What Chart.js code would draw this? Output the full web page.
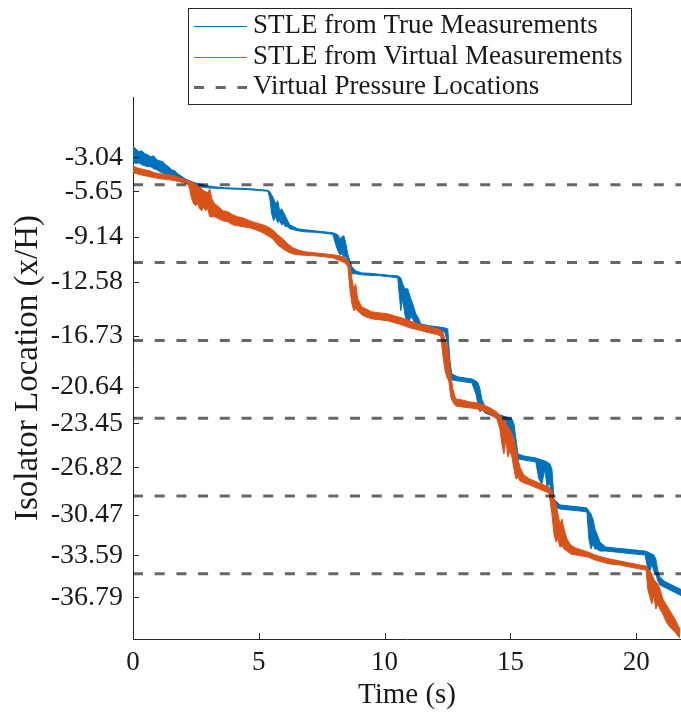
<!DOCTYPE html>
<html>
<head>
<meta charset="utf-8">
<script src="https://cdn.jsdelivr.net/npm/chart.js@4.4.0/dist/chart.umd.min.js"></script>
<style>
  html, body { margin: 0; padding: 0; background: #fff; }
</style>
</head>
<body>
<canvas id="stle" width="681" height="717"></canvas>
<script>
// Shock-train leading edge estimate vs time. Each series is stored as the
// upper and lower edge of its noisy trace at a set of times (s, x/H).
const trueTime = [0.00,0.11,0.23,0.35,0.47,0.58,0.70,0.82,0.94,1.06,
  1.18,1.30,1.42,1.54,1.66,1.78,1.90,2.02,2.14,2.25,
  2.45,2.65,2.93,3.25,3.65,4.16,4.64,5.12,5.36,5.44,
  5.51,5.59,5.67,5.75,5.83,5.91,5.99,6.07,6.15,6.23,
  6.39,6.55,6.83,7.22,7.62,7.94,8.06,8.14,8.22,8.30,
  8.38,8.46,8.54,8.62,8.70,8.85,9.09,9.41,9.81,10.21,
  10.52,10.60,10.64,10.72,10.80,10.92,11.04,11.12,11.24,11.32,
  11.44,11.60,11.80,12.12,12.39,12.51,12.59,12.67,12.91,13.19,
  13.47,13.63,13.71,13.79,13.86,13.98,14.18,14.38,14.58,14.82,
  14.98,15.06,15.14,15.22,15.30,15.53,15.77,16.01,16.13,16.25,
  16.37,16.45,16.57,16.65,16.73,16.97,17.36,17.76,18.04,18.12,
  18.20,18.28,18.36,18.44,18.56,18.79,19.15,19.55,19.95,20.35,
  20.46,20.54,20.62,20.70,20.78,20.86,20.94,21.10,21.26,21.42,
  21.58,21.74,21.78];
const trueHigh = [-2.22,-2.37,-2.60,-2.52,-2.75,-2.83,-2.99,-2.91,-3.22,-3.29,
  -3.37,-3.60,-3.75,-3.98,-4.06,-4.29,-4.44,-4.60,-4.75,-4.83,
  -4.98,-5.06,-5.21,-5.29,-5.37,-5.40,-5.44,-5.52,-5.56,-5.67,
  -5.90,-6.21,-6.60,-6.36,-7.13,-6.98,-7.29,-7.59,-7.90,-8.21,
  -8.36,-8.52,-8.59,-8.67,-8.75,-8.82,-8.90,-8.98,-9.28,-9.13,
  -9.05,-9.67,-10.51,-10.97,-11.43,-11.74,-11.90,-11.93,-12.01,-12.09,
  -12.12,-12.20,-12.28,-12.74,-13.12,-13.12,-13.89,-14.28,-15.04,-15.27,
  -15.81,-15.89,-15.96,-16.04,-16.12,-16.20,-18.50,-19.65,-19.88,-19.96,
  -20.04,-20.19,-20.34,-20.80,-21.57,-22.11,-22.26,-22.57,-22.80,-22.95,
  -23.03,-23.11,-23.49,-24.64,-25.80,-25.95,-26.03,-26.10,-26.18,-26.26,
  -26.33,-26.41,-26.56,-26.95,-29.25,-29.71,-29.79,-29.87,-29.94,-30.17,
  -30.40,-30.79,-31.56,-31.94,-32.56,-32.94,-33.02,-33.09,-33.17,-33.25,
  -33.32,-33.40,-33.48,-33.55,-33.86,-34.78,-35.24,-35.55,-35.70,-35.86,
  -36.01,-36.16,-36.20];
const trueLow = [-3.37,-3.52,-3.45,-3.60,-3.68,-3.75,-3.75,-3.91,-3.98,-4.14,
  -4.21,-4.37,-4.52,-4.52,-4.67,-4.83,-4.91,-4.98,-5.06,-5.14,
  -5.21,-5.29,-5.37,-5.40,-5.44,-5.48,-5.52,-5.60,-5.63,-6.21,
  -7.36,-7.90,-7.59,-8.05,-7.90,-8.21,-8.13,-8.36,-8.36,-8.52,
  -8.59,-8.67,-8.75,-8.78,-8.86,-8.94,-9.74,-10.20,-10.51,-10.44,
  -10.67,-10.67,-10.97,-11.74,-11.97,-11.97,-12.05,-12.09,-12.12,-12.20,
  -12.28,-13.89,-14.81,-13.89,-15.04,-15.96,-15.27,-15.43,-15.96,-16.20,
  -16.20,-16.27,-16.31,-16.35,-16.43,-17.35,-19.88,-20.11,-20.19,-20.27,
  -20.34,-21.19,-21.96,-22.57,-22.34,-22.65,-22.80,-22.95,-23.11,-23.26,
  -24.64,-25.80,-25.03,-26.03,-26.18,-26.26,-26.33,-26.41,-27.72,-28.10,
  -26.95,-28.25,-28.10,-29.48,-29.87,-30.02,-30.10,-30.17,-30.25,-32.33,
  -33.09,-32.71,-33.09,-33.09,-33.25,-33.25,-33.32,-33.40,-33.48,-33.55,
  -34.63,-34.86,-34.24,-34.78,-35.01,-35.55,-35.86,-36.01,-36.16,-36.32,
  -36.47,-36.63,-36.66];

const virtTime = [0.00,0.15,0.31,0.47,0.66,0.86,1.06,1.26,1.46,1.66,
  1.86,2.06,2.17,2.25,2.33,2.41,2.49,2.57,2.65,2.73,
  2.81,2.89,2.97,3.05,3.13,3.25,3.41,3.57,3.77,3.96,
  4.16,4.36,4.64,4.88,5.16,5.36,5.55,5.75,5.95,6.15,
  6.35,6.55,6.83,7.22,7.62,7.94,8.22,8.42,8.54,8.62,
  8.70,8.78,8.85,8.93,9.09,9.25,9.49,9.81,10.13,10.40,
  10.68,11.00,11.32,11.64,11.96,12.23,12.31,12.39,12.47,12.55,
  12.63,12.71,12.83,13.07,13.39,13.67,13.91,14.18,14.46,14.58,
  14.66,14.74,14.82,14.90,14.98,15.06,15.14,15.22,15.30,15.38,
  15.53,15.77,16.05,16.33,16.53,16.65,16.73,16.81,16.89,16.97,
  17.05,17.13,17.25,17.40,17.60,17.84,18.08,18.36,18.64,18.95,
  19.35,19.75,20.15,20.39,20.46,20.54,20.62,20.70,20.78,20.86,
  20.94,21.06,21.18,21.30,21.42,21.54,21.66,21.74];
const virtHigh = [-3.68,-3.83,-3.91,-3.98,-4.06,-4.21,-4.29,-4.33,-4.37,-4.44,
  -4.60,-4.75,-4.83,-4.83,-4.91,-4.98,-5.14,-5.21,-5.29,-5.44,
  -5.60,-5.67,-5.75,-5.44,-6.21,-6.60,-6.83,-7.13,-7.21,-7.44,
  -7.59,-7.67,-7.90,-8.05,-8.21,-8.36,-8.59,-8.98,-9.28,-9.67,
  -9.97,-10.13,-10.28,-10.36,-10.44,-10.51,-10.59,-10.74,-10.97,-11.20,
  -12.36,-13.12,-12.74,-13.89,-14.51,-14.66,-14.89,-14.97,-15.04,-15.20,
  -15.35,-15.58,-15.81,-15.96,-16.12,-16.27,-16.43,-16.96,-17.35,-18.12,
  -19.65,-20.80,-21.57,-21.65,-21.80,-21.88,-22.03,-22.26,-22.57,-22.88,
  -22.95,-23.11,-23.49,-23.72,-23.88,-24.26,-24.64,-25.41,-26.18,-26.79,
  -27.41,-27.72,-27.95,-28.18,-28.33,-28.64,-29.25,-29.64,-30.40,-31.17,
  -30.79,-31.56,-32.33,-32.79,-33.02,-33.17,-33.32,-33.55,-33.71,-33.86,
  -34.01,-34.17,-34.32,-34.40,-34.63,-34.78,-35.01,-35.40,-35.63,-35.78,
  -36.16,-36.93,-37.32,-37.70,-38.08,-38.47,-38.93,-39.24];
const virtLow = [-4.21,-4.29,-4.37,-4.44,-4.52,-4.60,-4.67,-4.71,-4.75,-4.83,
  -4.91,-4.98,-5.06,-5.44,-6.21,-6.60,-6.75,-6.60,-6.98,-7.13,
  -6.83,-7.13,-6.98,-7.59,-7.59,-7.59,-7.75,-7.90,-7.98,-8.21,
  -8.28,-8.36,-8.44,-8.59,-8.82,-9.05,-9.28,-9.74,-10.05,-10.28,
  -10.44,-10.51,-10.55,-10.59,-10.67,-10.74,-10.97,-11.13,-11.43,-13.12,
  -14.28,-14.81,-14.66,-14.81,-15.12,-15.27,-15.43,-15.50,-15.58,-15.73,
  -15.89,-16.12,-16.27,-16.43,-16.58,-16.73,-18.12,-19.27,-19.88,-20.19,
  -21.42,-21.80,-22.11,-22.19,-22.26,-22.34,-22.49,-22.72,-23.11,-23.88,
  -25.03,-25.80,-24.64,-26.03,-25.57,-26.03,-26.95,-27.72,-27.56,-27.87,
  -28.02,-28.18,-28.41,-28.64,-28.79,-30.40,-31.94,-32.56,-32.33,-32.94,
  -32.86,-33.09,-33.25,-33.48,-33.55,-33.63,-33.71,-33.94,-34.09,-34.24,
  -34.32,-34.48,-34.63,-34.71,-36.16,-36.78,-37.32,-36.70,-37.70,-37.32,
  -37.70,-38.08,-38.62,-39.01,-39.24,-39.47,-39.77,-39.93];

// virtual pressure tap locations (x/H)
const pressureLocations = [-5.13, -11.10, -17.08, -23.05, -29.02, -34.99];

// tick marks
const yTickValues = [-3.04, -5.65, -9.14, -12.58, -16.73, -20.64, -23.45, -26.82, -30.47, -33.59, -36.79];
const xTickValues = [0, 5, 10, 15, 20];

const seriesLabels = ['STLE from True Measurements', 'STLE from Virtual Measurements', 'Virtual Pressure Locations'];

const X_MIN = 0, X_MAX = 21.78;
const Y_MIN = -40, Y_MAX = 1.6;
const FONT = '"Liberation Serif", "Times New Roman", serif';
const BLUE = '#0072BD', ORANGE = '#D95319';

function edge(time, values) {
    return time.map((t, i) => ({x: t, y: values[i]}));
}

function hLines(levels) {
    const pts = [];
    levels.forEach(v => {
        pts.push({x: X_MIN, y: v});
        pts.push({x: X_MAX, y: v});
        pts.push({x: X_MAX, y: null});
    });
    return pts;
}

// tick marks drawn inward, MATLAB style
const inwardTicks = {
    id: 'inwardTicks',
    afterDatasetsDraw(chart) {
        const {ctx, chartArea, scales} = chart;
        ctx.save();
        ctx.strokeStyle = '#262626';
        ctx.lineWidth = 1;
        ctx.beginPath();
        scales.y.ticks.forEach(t => {
            const py = Math.round(scales.y.getPixelForValue(t.value)) + 0.5;
            ctx.moveTo(chartArea.left, py);
            ctx.lineTo(chartArea.left + 6, py);
        });
        scales.x.ticks.forEach(t => {
            const px = Math.round(scales.x.getPixelForValue(t.value)) + 0.5;
            ctx.moveTo(px, chartArea.bottom);
            ctx.lineTo(px, chartArea.bottom - 6);
        });
        ctx.stroke();
        ctx.restore();
    }
};

// boxed legend, one entry per row (helper datasets without a label are skipped)
const boxedLegend = {
    id: 'boxedLegend',
    afterDraw(chart) {
        const ctx = chart.ctx;
        const left = 188.5, top = 8.5, width = 443, height = 96;
        const rows = [26, 57, 87];
        ctx.save();
        ctx.fillStyle = '#ffffff';
        ctx.fillRect(left, top, width, height);
        ctx.strokeStyle = '#262626';
        ctx.lineWidth = 1;
        ctx.strokeRect(left, top, width, height);
        ctx.font = '27px ' + FONT;
        ctx.textBaseline = 'middle';
        chart.data.datasets.filter(ds => ds.label).forEach((ds, i) => {
            const y = rows[i];
            ctx.beginPath();
            ctx.strokeStyle = ds.borderColor;
            ctx.lineWidth = ds.borderWidth;
            ctx.setLineDash(ds.borderDash || []);
            ctx.moveTo(194, y + 0.5);
            ctx.lineTo(247, y + 0.5);
            ctx.stroke();
            ctx.setLineDash([]);
            ctx.fillStyle = '#1a1a1a';
            ctx.fillText(ds.label, 253, y);
        });
        ctx.restore();
    }
};

document.addEventListener('DOMContentLoaded', function () {
    const ctx = document.getElementById('stle').getContext('2d');
    new Chart(ctx, {
        type: 'line',
        data: {
            datasets: [{
                label: seriesLabels[0],
                data: edge(trueTime, trueHigh),
                borderColor: BLUE,
                backgroundColor: BLUE,
                borderWidth: 1,
                fill: '+1',
                order: 3
            }, {
                label: '',
                data: edge(trueTime, trueLow),
                borderColor: BLUE,
                borderWidth: 1,
                fill: false,
                order: 3
            }, {
                label: seriesLabels[1],
                data: edge(virtTime, virtHigh),
                borderColor: ORANGE,
                backgroundColor: ORANGE,
                borderWidth: 1,
                fill: '+1',
                order: 2
            }, {
                label: '',
                data: edge(virtTime, virtLow),
                borderColor: ORANGE,
                borderWidth: 1,
                fill: false,
                order: 2
            }, {
                label: seriesLabels[2],
                data: hLines(pressureLocations),
                borderColor: 'rgba(0, 0, 0, 0.6)',
                borderWidth: 3,
                borderDash: [10, 11.7],
                spanGaps: false,
                fill: false,
                order: 1
            }]
        },
        options: {
            responsive: false,
            animation: false,
            devicePixelRatio: 1,
            elements: {
                point: { radius: 0, hoverRadius: 0 },
                line: { tension: 0 }
            },
            layout: { padding: { top: 97, left: 0, right: 0, bottom: 0 } },
            plugins: {
                legend: { display: false },
                tooltip: { enabled: false }
            },
            scales: {
                x: {
                    type: 'linear',
                    min: X_MIN,
                    max: X_MAX,
                    afterBuildTicks: scale => { scale.ticks = xTickValues.map(v => ({value: v})); },
                    afterFit: scale => { scale.height = 78; },
                    grid: { display: false, drawTicks: false },
                    border: { display: true, color: '#262626', width: 1 },
                    ticks: {
                        maxRotation: 0,
                        padding: 8,
                        color: '#1a1a1a',
                        font: { family: FONT, size: 27 },
                        callback: v => String(v)
                    },
                    title: {
                        display: true,
                        text: 'Time (s)',
                        color: '#1a1a1a',
                        font: { family: FONT, size: 29 },
                        padding: { top: 0, bottom: 4 }
                    }
                },
                y: {
                    type: 'linear',
                    min: Y_MIN,
                    max: Y_MAX,
                    afterBuildTicks: scale => { scale.ticks = yTickValues.map(v => ({value: v})); },
                    afterFit: scale => { scale.width = 133; },
                    grid: { display: false, drawTicks: false },
                    border: { display: true, color: '#262626', width: 1 },
                    ticks: {
                        padding: 10,
                        color: '#1a1a1a',
                        font: { family: FONT, size: 28 },
                        callback: v => v.toFixed(2)
                    },
                    title: {
                        display: true,
                        text: 'Isolator Location (x/H)',
                        color: '#1a1a1a',
                        font: { family: FONT, size: 33 },
                        padding: { top: 9, bottom: 0 }
                    }
                }
            }
        },
        plugins: [inwardTicks, boxedLegend]
    });
});
</script>
</body>
</html>
